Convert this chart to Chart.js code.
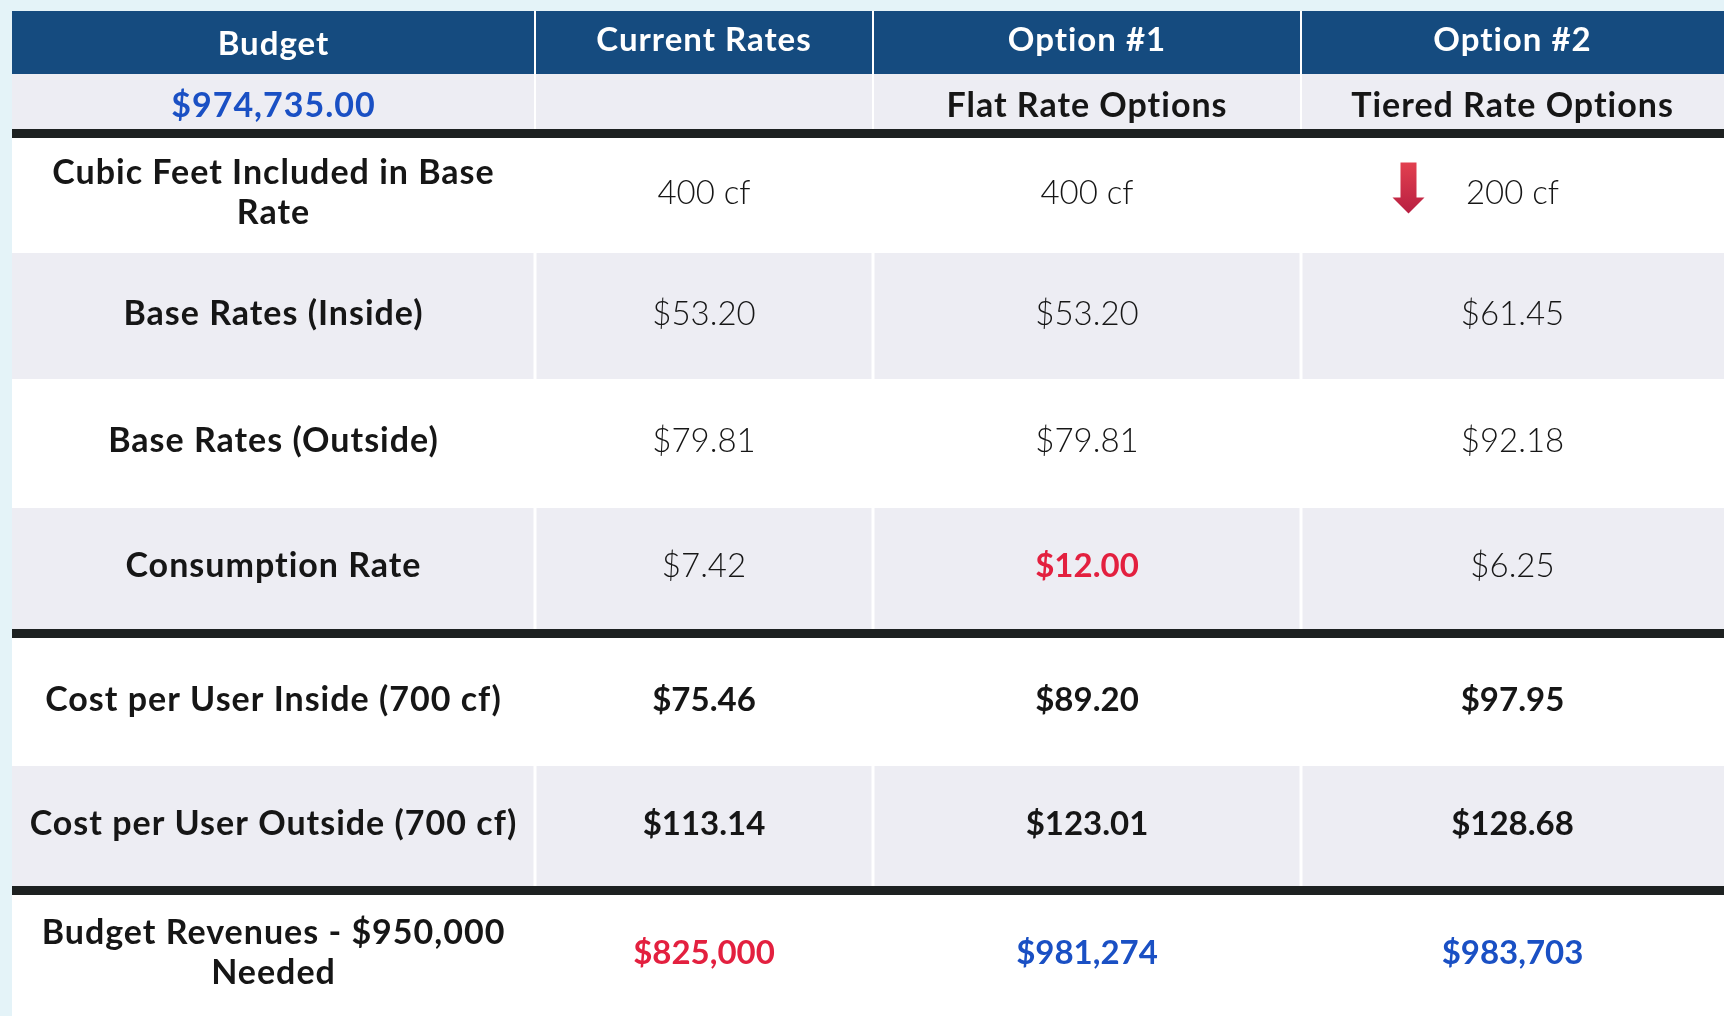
<!DOCTYPE html>
<html>
<head>
<meta charset="utf-8">
<script src="https://cdn.jsdelivr.net/npm/chart.js@4.4.1/dist/chart.umd.min.js"></script>
<style>
    html, body { margin: 0; padding: 0; background: #e4f3f8; }
    #wrap { width: 1724px; height: 1016px; position: relative; }
</style>
</head>
<body>
<div id="wrap"><canvas id="rates-table"></canvas></div>
<script>
// table content
const columns = ['Budget', 'Current Rates', 'Option #1', 'Option #2'];
const subHeaders = ['$974,735.00', '', 'Flat Rate Options', 'Tiered Rate Options'];
const rowLabels = [
    ['Cubic Feet Included in Base', 'Rate'],
    ['Base Rates (Inside)'],
    ['Base Rates (Outside)'],
    ['Consumption Rate'],
    ['Cost per User Inside (700 cf)'],
    ['Cost per User Outside (700 cf)'],
    ['Budget Revenues - $950,000', 'Needed']
];
const currentRates = ['400 cf', '$53.20', '$79.81', '$7.42', '$75.46', '$113.14', '$825,000'];
const option1 = ['400 cf', '$53.20', '$79.81', '$12.00', '$89.20', '$123.01', '$981,274'];
const option2 = ['200 cf', '$61.45', '$92.18', '$6.25', '$97.95', '$128.68', '$983,703'];

// layout (scale units = px of the page)
const colEdges = [12, 535, 873, 1301, 1724];
const headerBand = [11, 74];
const subBand = [74, 129];
const rowBands = [[138, 253], [253, 379], [379, 508], [508, 629], [638, 766], [766, 886], [895, 1016]];
const rules = [[129, 138], [629, 638], [886, 895]];
const grayRows = [1, 3, 5];
const boldRows = [4, 5, 6];

const NAVY = '#154b7f';
const GRAY = '#ededf3';
const RULE = '#1d2121';
const BLUE = '#1a50c4';
const RED = '#e3203f';
const INK = '#161616';

const HEADER_FONT = 'bold 33px Lato, "DejaVu Sans", sans-serif';
const LABEL_FONT = 'bold 34px Lato, "DejaVu Sans", sans-serif';
const VALUE_FONT = '300 33px Lato, "DejaVu Sans", sans-serif';
const VALUE_BOLD = 'bold 33px Lato, "DejaVu Sans", sans-serif';

function valueColor(col, row) {
    if (col === 2 && row === 3) return RED;
    if (row === 6) return col === 1 ? RED : BLUE;
    return INK;
}

const tablePlugin = {
    id: 'tableCells',
    beforeDatasetsDraw(chart) {
        const { ctx, scales: { x, y } } = chart;
        const px = v => x.getPixelForValue(v);
        const py = v => y.getPixelForValue(v);
        const right = px(colEdges[colEdges.length - 1]);
        const left = px(colEdges[0]);

        const fillBand = (band, color) => {
            ctx.fillStyle = color;
            ctx.fillRect(left, py(band[0]), right - left, py(band[1]) - py(band[0]));
        };

        ctx.save();
        // bands
        fillBand(headerBand, NAVY);
        fillBand(subBand, GRAY);
        rowBands.forEach((band, i) => fillBand(band, grayRows.includes(i) ? GRAY : '#ffffff'));
        rules.forEach(band => fillBand(band, RULE));

        // white column dividers
        ctx.fillStyle = '#ffffff';
        colEdges.slice(1, -1).forEach(edge => {
            const ex = px(edge);
            ctx.fillRect(ex - 1, py(headerBand[0]), 2, py(rules[0][0]) - py(headerBand[0]));
            rowBands.forEach((band, i) => {
                if (grayRows.includes(i)) ctx.fillRect(ex - 1.5, py(band[0]), 3, py(band[1]) - py(band[0]));
            });
        });

        const colCenter = c => (px(colEdges[c]) + px(colEdges[c + 1])) / 2;
        ctx.textAlign = 'center';
        ctx.textBaseline = 'middle';

        // header
        ctx.letterSpacing = '1px';
        ctx.font = HEADER_FONT;
        ctx.fillStyle = '#ffffff';
        columns.forEach((label, c) => {
            ctx.fillText(label, colCenter(c), py(c === 0 ? 44 : 40));
        });

        // sub header
        ctx.font = LABEL_FONT;
        subHeaders.forEach((label, c) => {
            ctx.fillStyle = c === 0 ? BLUE : INK;
            ctx.fillText(label, colCenter(c), py(106));
        });

        // row labels
        rowLabels.forEach((lines, r) => {
            const mid = (py(rowBands[r][0]) + py(rowBands[r][1])) / 2;
            const lineH = 40;
            ctx.font = LABEL_FONT;
            ctx.fillStyle = INK;
            lines.forEach((line, i) => {
                const offset = (i - (lines.length - 1) / 2) * lineH;
                ctx.fillText(line, colCenter(0), mid + offset - 2);
            });
        });

        // values
        ctx.letterSpacing = '0px';
        [currentRates, option1, option2].forEach((values, k) => {
            const c = k + 1;
            values.forEach((val, r) => {
                const mid = (py(rowBands[r][0]) + py(rowBands[r][1])) / 2;
                const colored = valueColor(c, r) !== INK;
                ctx.font = boldRows.includes(r) || colored ? VALUE_BOLD : VALUE_FONT;
                ctx.fillStyle = valueColor(c, r);
                ctx.fillText(val, colCenter(c), mid - 2);
            });
        });

        // red down arrow next to the reduced base volume
        const ax = colCenter(3) - 104;
        const ay = (py(rowBands[0][0]) + py(rowBands[0][1])) / 2 - 33;
        const grad = ctx.createLinearGradient(ax, ay, ax, ay + 51);
        grad.addColorStop(0, '#e2404f');
        grad.addColorStop(1, '#b81f42');
        ctx.fillStyle = grad;
        ctx.beginPath();
        ctx.moveTo(ax - 8, ay);
        ctx.lineTo(ax + 8, ay);
        ctx.lineTo(ax + 8, ay + 35);
        ctx.lineTo(ax + 16, ay + 35);
        ctx.lineTo(ax, ay + 51);
        ctx.lineTo(ax - 16, ay + 35);
        ctx.lineTo(ax - 8, ay + 35);
        ctx.closePath();
        ctx.fill();

        ctx.restore();
    }
};

new Chart(document.getElementById('rates-table'), {
    type: 'scatter',
    data: { datasets: [] },
    options: {
        responsive: true,
        maintainAspectRatio: false,
        animation: false,
        layout: { padding: 0 },
        plugins: { legend: { display: false }, tooltip: { enabled: false } },
        scales: {
            x: { type: 'linear', min: 0, max: 1724, display: false },
            y: { type: 'linear', min: 0, max: 1016, reverse: true, display: false }
        }
    },
    plugins: [tablePlugin]
});
</script>
</body>
</html>
